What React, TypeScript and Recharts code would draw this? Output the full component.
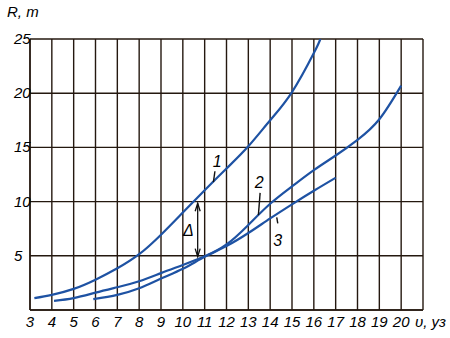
import React from 'react';
import { LineChart, Line, XAxis, YAxis, CartesianGrid, ReferenceLine, ReferenceDot } from 'recharts';

const xTicks = [3, 4, 5, 6, 7, 8, 9, 10, 11, 12, 13, 14, 15, 16, 17, 18, 19, 20, 21];
const yTicks = [0, 5, 10, 15, 20, 25];
const xAxisTitle = 'υ, уз';
const yAxisTitle = 'R, т';

const curve1 = [
  { x: 3.2, y: 1.1 }, { x: 4, y: 1.4 }, { x: 5, y: 1.95 }, { x: 6, y: 2.8 }, { x: 7, y: 3.85 },
  { x: 8, y: 5.15 }, { x: 9, y: 6.95 }, { x: 10, y: 9.0 }, { x: 11, y: 11.05 }, { x: 12, y: 13.05 },
  { x: 13, y: 15.1 }, { x: 14, y: 17.5 }, { x: 15, y: 20.1 }, { x: 16, y: 23.7 },
  { x: 16.3, y: 25 },
];
const curve2 = [
  { x: 4.1, y: 0.85 }, { x: 5, y: 1.1 }, { x: 6, y: 1.6 }, { x: 7, y: 2.1 }, { x: 8, y: 2.65 },
  { x: 9, y: 3.4 }, { x: 10, y: 4.15 }, { x: 11, y: 4.95 }, { x: 12, y: 6.05 }, { x: 13, y: 7.85 },
  { x: 14, y: 9.8 }, { x: 15, y: 11.4 }, { x: 16, y: 12.9 }, { x: 17, y: 14.25 }, { x: 18, y: 15.7 },
  { x: 19, y: 17.6 }, { x: 20, y: 20.7 },
];
const curve3 = [
  { x: 5.9, y: 1.0 }, { x: 7, y: 1.4 }, { x: 8, y: 2.0 }, { x: 9, y: 2.9 }, { x: 10, y: 3.8 },
  { x: 11, y: 4.9 }, { x: 12, y: 5.9 }, { x: 13, y: 7.1 }, { x: 14, y: 8.45 }, { x: 15, y: 9.75 },
  { x: 16, y: 11.0 }, { x: 17, y: 12.2 },
];

// curve labels: text position and leader line (data coordinates)
const curveLabels = [
  { text: '1', x: 11.57, y: 13.7, lx1: 11.47, ly1: 12.8, lx2: 11.4, ly2: 11.8 },
  { text: '2', x: 13.5, y: 11.85, lx1: 13.54, ly1: 10.8, lx2: 13.46, ly2: 8.75 },
  { text: '3', x: 14.35, y: 6.45, lx1: 14.3, ly1: 8.55, lx2: 14.35, ly2: 8.0 },
];
const deltaLabel = { text: 'Δ', x: 10.25, y: 7.35 };
const deltaArrow = { x: 10.68, yTop: 9.85, yBottom: 4.92 };

const BLUE = '#1e52a3';
const GRID = '#24180f';
const FONT = '"Liberation Sans", Arial, sans-serif';

const XTick = (props: any) => {
  const { x, y, payload } = props;
  if (payload.value === 21) {
    return (
      <text x={x - 8} y={y + 15} fontFamily={FONT} fontStyle="italic" fontSize={15} fill="#000" textAnchor="start">
        {xAxisTitle}
      </text>
    );
  }
  return (
    <text x={x} y={y + 15} fontFamily={FONT} fontStyle="italic" fontSize={15} fill="#000" textAnchor="middle">
      {payload.value}
    </text>
  );
};

const YTick = (props: any) => {
  const { y, payload } = props;
  if (payload.value === 0) return <g />;
  return (
    <text x={14} y={y + 5} fontFamily={FONT} fontStyle="italic" fontSize={15} fill="#000" textAnchor="start">
      {payload.value}
    </text>
  );
};

const ArrowShape = (props: any) => {
  const { x1, y1, x2, y2 } = props;
  const top = Math.min(y1, y2);
  const bot = Math.max(y1, y2);
  const x = x1;
  return (
    <g stroke="#111" strokeWidth={1.3} fill="none">
      <line x1={x} y1={top} x2={x} y2={bot} />
      <polyline points={`${x - 2.5},${top + 8} ${x},${top} ${x + 2.5},${top + 8}`} />
      <polyline points={`${x - 2.5},${bot - 8} ${x},${bot} ${x + 2.5},${bot - 8}`} />
    </g>
  );
};

const TextShape = (text: string) => (props: any) => {
  const { cx, cy } = props;
  return (
    <text x={cx} y={cy + 6} fontFamily={FONT} fontStyle="italic" fontSize={16} fill="#000" textAnchor="middle">
      {text}
    </text>
  );
};

export default function App() {
  return (
    <div style={{ position: 'fixed', left: 0, top: 0, width: 450, height: 338, background: '#fff' }}>
      <div
        style={{
          position: 'absolute', left: 7, top: 3, fontFamily: FONT, fontStyle: 'italic', fontSize: 15, color: '#000',
        }}
      >
        {yAxisTitle}
      </div>
      <LineChart width={450} height={338} margin={{ top: 39, right: 27, left: 0, bottom: 0 }}>
        <CartesianGrid stroke={GRID} strokeWidth={1.4} horizontalValues={yTicks} verticalValues={xTicks} />
        <XAxis
          type="number"
          dataKey="x"
          domain={[3, 21]}
          ticks={xTicks}
          allowDataOverflow
          height={28}
          tickLine={false}
          tickSize={0}
          axisLine={{ stroke: GRID, strokeWidth: 1.4 }}
          tick={<XTick />}
          interval={0}
        />
        <YAxis
          type="number"
          domain={[0, 25]}
          ticks={yTicks}
          allowDataOverflow
          width={30}
          tickLine={false}
          tickSize={0}
          axisLine={{ stroke: GRID, strokeWidth: 1.4 }}
          tick={<YTick />}
          interval={0}
        />
        <Line data={curve1} dataKey="y" type="natural" stroke={BLUE} strokeWidth={2.2} dot={false} isAnimationActive={false} />
        <Line data={curve2} dataKey="y" type="natural" stroke={BLUE} strokeWidth={2.2} dot={false} isAnimationActive={false} />
        <Line data={curve3} dataKey="y" type="natural" stroke={BLUE} strokeWidth={2.2} dot={false} isAnimationActive={false} />
        {curveLabels.map((c) => (
          <ReferenceLine
            key={'l' + c.text}
            segment={[{ x: c.lx1, y: c.ly1 }, { x: c.lx2, y: c.ly2 }]}
            stroke="#111"
            strokeWidth={1.4}
          />
        ))}
        {curveLabels.map((c) => (
          <ReferenceDot key={'t' + c.text} x={c.x} y={c.y} r={0} shape={TextShape(c.text)} />
        ))}
        <ReferenceDot x={deltaLabel.x} y={deltaLabel.y} r={0} shape={TextShape(deltaLabel.text)} />
        <ReferenceLine
          segment={[{ x: deltaArrow.x, y: deltaArrow.yTop }, { x: deltaArrow.x, y: deltaArrow.yBottom }]}
          shape={<ArrowShape />}
        />
      </LineChart>
    </div>
  );
}
